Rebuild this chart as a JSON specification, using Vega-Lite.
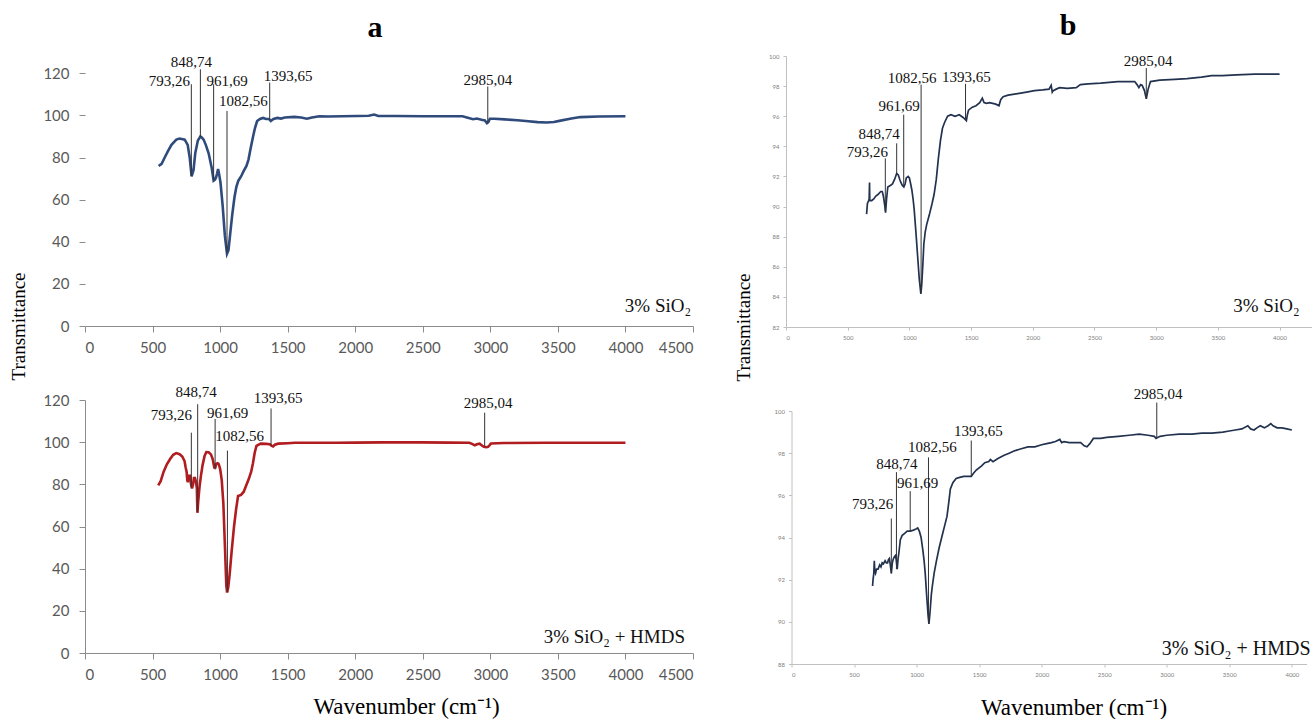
{
  "$schema": "https://vega.github.io/schema/vega-lite/v6.json",
  "background": "white",
  "padding": {"left": 9, "top": 11, "right": 0, "bottom": 0},
  "config": {"view": {"stroke": null}, "axis": {"labelOverlap": false, "labelBound": false}},
  "datasets": {
    "a1": [
      {"x":545,"y":76},{"x":567,"y":77},{"x":590,"y":80},{"x":614,"y":83},{"x":640,"y":86},{"x":676,"y":88.5},{"x":700,"y":89},{"x":738,"y":88.5},{"x":760,"y":86},{"x":775,"y":80},{"x":789,"y":71},{"x":803,"y":74},{"x":816,"y":82},{"x":835,"y":88},{"x":854,"y":90},{"x":864,"y":89.5},{"x":878,"y":88.5},{"x":894,"y":86},{"x":915,"y":82},{"x":938,"y":75},{"x":952,"y":69},{"x":962,"y":69.5},{"x":970,"y":70.5},{"x":978,"y":72.5},{"x":985,"y":74.5},{"x":993,"y":72},{"x":1003,"y":68},{"x":1019,"y":57},{"x":1035,"y":43},{"x":1051,"y":34.3},{"x":1062,"y":36},{"x":1075,"y":44},{"x":1090,"y":53},{"x":1106,"y":61},{"x":1120,"y":66},{"x":1135,"y":69},{"x":1155,"y":71},{"x":1174,"y":73.5},{"x":1195,"y":76},{"x":1210,"y":79},{"x":1225,"y":84},{"x":1244,"y":90},{"x":1258,"y":94},{"x":1274,"y":97.3},{"x":1295,"y":98.3},{"x":1318,"y":98.8},{"x":1340,"y":98.3},{"x":1361,"y":98.3},{"x":1375,"y":97.3},{"x":1395,"y":98.3},{"x":1424,"y":98.8},{"x":1450,"y":98.5},{"x":1480,"y":99},{"x":1548,"y":99.3},{"x":1600,"y":99},{"x":1642,"y":98.4},{"x":1680,"y":99},{"x":1735,"y":99.6},{"x":1800,"y":99.5},{"x":1900,"y":99.6},{"x":2015,"y":99.7},{"x":2100,"y":99.8},{"x":2140,"y":100.4},{"x":2171,"y":99.7},{"x":2300,"y":99.7},{"x":2500,"y":99.6},{"x":2700,"y":99.6},{"x":2794,"y":99.6},{"x":2840,"y":98.8},{"x":2872,"y":98.2},{"x":2900,"y":98.5},{"x":2935,"y":97.9},{"x":2960,"y":97.6},{"x":2975,"y":96.3},{"x":2985,"y":96.8},{"x":2997,"y":98.4},{"x":3030,"y":98.4},{"x":3106,"y":98.1},{"x":3200,"y":97.7},{"x":3262,"y":97.3},{"x":3350,"y":96.8},{"x":3417,"y":96.6},{"x":3470,"y":96.9},{"x":3511,"y":97.4},{"x":3600,"y":98.5},{"x":3667,"y":99.2},{"x":3800,"y":99.5},{"x":4000,"y":99.6}
    ],
    "a2": [
      {"x":542,"y":79.5},{"x":560,"y":81.5},{"x":582,"y":86},{"x":606,"y":89.5},{"x":630,"y":92},{"x":653,"y":94},{"x":675,"y":94.8},{"x":700,"y":94.3},{"x":720,"y":93.2},{"x":737,"y":91},{"x":745,"y":88},{"x":752,"y":86},{"x":757,"y":82},{"x":761,"y":81},{"x":768,"y":84},{"x":777,"y":84},{"x":785,"y":80},{"x":792,"y":78},{"x":800,"y":80},{"x":806,"y":83},{"x":814,"y":83},{"x":822,"y":81},{"x":828,"y":78},{"x":832,"y":66.5},{"x":838,"y":72},{"x":848,"y":79},{"x":858,"y":84},{"x":870,"y":89},{"x":885,"y":93.5},{"x":898,"y":95.3},{"x":915,"y":95.2},{"x":932,"y":94.2},{"x":945,"y":92},{"x":957,"y":88},{"x":965,"y":88},{"x":970,"y":89.5},{"x":980,"y":90},{"x":988,"y":89.8},{"x":995,"y":88.5},{"x":1001,"y":87},{"x":1012,"y":82},{"x":1024,"y":71},{"x":1036,"y":50},{"x":1046,"y":32},{"x":1052,"y":28.7},{"x":1060,"y":31},{"x":1070,"y":37},{"x":1085,"y":48},{"x":1103,"y":60},{"x":1118,"y":68},{"x":1133,"y":74.5},{"x":1155,"y":75},{"x":1175,"y":76.5},{"x":1190,"y":79},{"x":1212,"y":82.5},{"x":1230,"y":86},{"x":1243,"y":90},{"x":1256,"y":95},{"x":1269,"y":98.2},{"x":1300,"y":99.3},{"x":1340,"y":99.2},{"x":1367,"y":99},{"x":1380,"y":98.4},{"x":1392,"y":98},{"x":1405,"y":98.8},{"x":1430,"y":99.3},{"x":1500,"y":99.5},{"x":1554,"y":99.7},{"x":1700,"y":99.7},{"x":1865,"y":99.7},{"x":2000,"y":99.8},{"x":2200,"y":99.9},{"x":2486,"y":99.9},{"x":2700,"y":99.8},{"x":2843,"y":99.7},{"x":2865,"y":99.2},{"x":2885,"y":98.5},{"x":2900,"y":99},{"x":2921,"y":99.3},{"x":2940,"y":98.3},{"x":2952,"y":97.8},{"x":2970,"y":97.6},{"x":2983,"y":97.8},{"x":2995,"y":98.6},{"x":3005,"y":99.4},{"x":3100,"y":99.6},{"x":3418,"y":99.7},{"x":3700,"y":99.7},{"x":4000,"y":99.7}
    ],
    "b1": [
      {"x":653,"y":89.5},{"x":660,"y":90.2},{"x":670,"y":90.4},{"x":674,"y":90.5},{"x":677,"y":91.6},{"x":679,"y":90.4},{"x":695,"y":90.4},{"x":711,"y":90.5},{"x":728,"y":90.7},{"x":745,"y":90.8},{"x":768,"y":91.0},{"x":780,"y":91},{"x":789,"y":90.7},{"x":800,"y":90.1},{"x":807,"y":89.6},{"x":815,"y":90.5},{"x":825,"y":91.3},{"x":845,"y":91.4},{"x":863,"y":91.5},{"x":880,"y":91.8},{"x":897,"y":92.2},{"x":910,"y":92.1},{"x":922,"y":91.8},{"x":931,"y":91.6},{"x":943,"y":91.4},{"x":955,"y":91.3},{"x":965,"y":91.5},{"x":975,"y":91.9},{"x":990,"y":92.0},{"x":1000,"y":91.9},{"x":1008,"y":91.6},{"x":1020,"y":91.1},{"x":1030,"y":90.5},{"x":1039,"y":89.8},{"x":1052,"y":88.4},{"x":1066,"y":86.8},{"x":1080,"y":85.2},{"x":1093,"y":84.2},{"x":1100,"y":84.8},{"x":1110,"y":86.3},{"x":1117,"y":87.5},{"x":1128,"y":88.3},{"x":1140,"y":88.8},{"x":1160,"y":89.4},{"x":1184,"y":90.2},{"x":1200,"y":90.8},{"x":1218,"y":91.8},{"x":1235,"y":93.2},{"x":1252,"y":94.4},{"x":1268,"y":95.2},{"x":1286,"y":95.6},{"x":1310,"y":96.0},{"x":1337,"y":96.1},{"x":1370,"y":96.0},{"x":1404,"y":96.1},{"x":1438,"y":95.9},{"x":1450,"y":95.8},{"x":1462,"y":95.7},{"x":1470,"y":96.1},{"x":1479,"y":96.4},{"x":1510,"y":96.6},{"x":1540,"y":96.7},{"x":1570,"y":96.9},{"x":1591,"y":97.2},{"x":1605,"y":96.9},{"x":1624,"y":96.85},{"x":1650,"y":96.9},{"x":1675,"y":96.85},{"x":1700,"y":96.8},{"x":1726,"y":96.7},{"x":1740,"y":97.1},{"x":1760,"y":97.3},{"x":1800,"y":97.4},{"x":1878,"y":97.5},{"x":1950,"y":97.6},{"x":2014,"y":97.7},{"x":2080,"y":97.75},{"x":2132,"y":97.8},{"x":2149,"y":98.05},{"x":2158,"y":97.6},{"x":2166,"y":97.7},{"x":2190,"y":97.8},{"x":2217,"y":97.9},{"x":2280,"y":97.85},{"x":2352,"y":97.9},{"x":2386,"y":98.1},{"x":2450,"y":98.15},{"x":2550,"y":98.2},{"x":2690,"y":98.3},{"x":2780,"y":98.3},{"x":2826,"y":98.3},{"x":2845,"y":98.1},{"x":2860,"y":97.9},{"x":2874,"y":98.1},{"x":2887,"y":98.05},{"x":2905,"y":97.7},{"x":2920,"y":97.15},{"x":2935,"y":97.8},{"x":2954,"y":98.3},{"x":3029,"y":98.4},{"x":3150,"y":98.45},{"x":3250,"y":98.5},{"x":3367,"y":98.6},{"x":3450,"y":98.7},{"x":3536,"y":98.7},{"x":3650,"y":98.75},{"x":3800,"y":98.8},{"x":4000,"y":98.8}
    ],
    "b2": [
      {"x":648,"y":91.7},{"x":652,"y":92.0},{"x":658,"y":92.3},{"x":662,"y":92.9},{"x":666,"y":92.4},{"x":672,"y":92.3},{"x":680,"y":92.5},{"x":692,"y":92.5},{"x":705,"y":92.7},{"x":715,"y":92.6},{"x":725,"y":92.8},{"x":735,"y":92.75},{"x":748,"y":92.9},{"x":758,"y":92.8},{"x":768,"y":92.8},{"x":775,"y":92.95},{"x":782,"y":93.0},{"x":790,"y":92.7},{"x":798,"y":92.3},{"x":806,"y":92.8},{"x":815,"y":93.0},{"x":824,"y":93.1},{"x":832,"y":93.15},{"x":838,"y":92.9},{"x":845,"y":92.5},{"x":852,"y":93.0},{"x":859,"y":93.3},{"x":870,"y":93.9},{"x":885,"y":94.1},{"x":905,"y":94.2},{"x":925,"y":94.3},{"x":950,"y":94.3},{"x":975,"y":94.35},{"x":995,"y":94.4},{"x":1009,"y":94.45},{"x":1022,"y":94.3},{"x":1036,"y":94.0},{"x":1050,"y":93.4},{"x":1060,"y":92.9},{"x":1069,"y":92.3},{"x":1080,"y":91.3},{"x":1092,"y":90.3},{"x":1099,"y":89.9},{"x":1108,"y":90.5},{"x":1118,"y":91.3},{"x":1126,"y":91.7},{"x":1140,"y":92.3},{"x":1159,"y":92.9},{"x":1180,"y":93.5},{"x":1209,"y":94.2},{"x":1226,"y":94.6},{"x":1243,"y":95.0},{"x":1258,"y":95.7},{"x":1270,"y":96.3},{"x":1290,"y":96.6},{"x":1316,"y":96.8},{"x":1345,"y":96.85},{"x":1377,"y":96.9},{"x":1410,"y":96.9},{"x":1437,"y":96.9},{"x":1455,"y":97.05},{"x":1477,"y":97.2},{"x":1520,"y":97.4},{"x":1545,"y":97.55},{"x":1577,"y":97.6},{"x":1590,"y":97.7},{"x":1611,"y":97.6},{"x":1650,"y":97.75},{"x":1700,"y":97.9},{"x":1740,"y":98.0},{"x":1778,"y":98.1},{"x":1830,"y":98.2},{"x":1890,"y":98.3},{"x":1945,"y":98.3},{"x":2000,"y":98.4},{"x":2040,"y":98.45},{"x":2078,"y":98.5},{"x":2110,"y":98.55},{"x":2145,"y":98.65},{"x":2160,"y":98.5},{"x":2179,"y":98.55},{"x":2220,"y":98.5},{"x":2260,"y":98.5},{"x":2312,"y":98.5},{"x":2340,"y":98.35},{"x":2362,"y":98.3},{"x":2385,"y":98.45},{"x":2413,"y":98.7},{"x":2470,"y":98.7},{"x":2520,"y":98.75},{"x":2613,"y":98.8},{"x":2700,"y":98.85},{"x":2780,"y":98.9},{"x":2850,"y":98.85},{"x":2900,"y":98.8},{"x":2914,"y":98.7},{"x":2930,"y":98.75},{"x":2947,"y":98.8},{"x":3000,"y":98.85},{"x":3100,"y":98.9},{"x":3200,"y":98.9},{"x":3281,"y":98.95},{"x":3360,"y":98.95},{"x":3448,"y":99.0},{"x":3500,"y":99.05},{"x":3548,"y":99.1},{"x":3600,"y":99.15},{"x":3648,"y":99.3},{"x":3670,"y":99.15},{"x":3698,"y":99.1},{"x":3720,"y":99.2},{"x":3748,"y":99.3},{"x":3780,"y":99.2},{"x":3810,"y":99.3},{"x":3832,"y":99.4},{"x":3850,"y":99.3},{"x":3882,"y":99.2},{"x":3920,"y":99.2},{"x":3960,"y":99.15},{"x":4000,"y":99.1}
    ],
    "ann_a1": [
      {"label":"793,26","lx":625,"ly":116.3,"x":787,"y1":114.8,"y2":71.2},
      {"label":"848,74","lx":787,"ly":125.5,"x":854,"y1":121.9,"y2":89.8},
      {"label":"961,69","lx":1051,"ly":116.3,"x":952,"y1":114.8,"y2":69.5},
      {"label":"1082,56","lx":1172,"ly":106.8,"x":1051,"y1":102.1,"y2":35},
      {"label":"1393,65","lx":1503,"ly":118.7,"x":1367,"y1":115.6,"y2":98},
      {"label":"2985,04","lx":2981,"ly":116.7,"x":2981,"y1":113.7,"y2":96.5}
    ],
    "ann_a2": [
      {"label":"793,26","lx":639,"ly":113,"x":787,"y1":104.5,"y2":78.5},
      {"label":"848,74","lx":823,"ly":124,"x":834,"y1":118,"y2":67},
      {"label":"961,69","lx":1056,"ly":114,"x":963,"y1":111,"y2":87},
      {"label":"1082,56","lx":1145,"ly":103,"x":1054,"y1":96,"y2":29},
      {"label":"1393,65","lx":1429,"ly":121,"x":1377,"y1":116,"y2":98.5},
      {"label":"2985,04","lx":2983,"ly":118.5,"x":2958,"y1":114,"y2":98}
    ],
    "ann_b1": [
      {"label":"793,26","lx":660,"ly":93.6,"x":805,"y1":93.2,"y2":89.7},
      {"label":"848,74","lx":755,"ly":94.8,"x":897,"y1":94.2,"y2":92.2},
      {"label":"961,69","lx":917,"ly":96.7,"x":954,"y1":96.1,"y2":91.3},
      {"label":"1082,56","lx":1022,"ly":98.55,"x":1095,"y1":98.1,"y2":84.3},
      {"label":"1393,65","lx":1462,"ly":98.6,"x":1455,"y1":98.15,"y2":95.8},
      {"label":"2985,04","lx":2934,"ly":99.7,"x":2920,"y1":99.2,"y2":97.2}
    ],
    "ann_b2": [
      {"label":"793,26","lx":648,"ly":95.6,"x":798,"y1":94.9,"y2":92.3},
      {"label":"848,74","lx":842,"ly":97.5,"x":839,"y1":97.1,"y2":92.5},
      {"label":"961,69","lx":1009,"ly":96.6,"x":949,"y1":96.2,"y2":94.3},
      {"label":"1082,56","lx":1126,"ly":98.3,"x":1095,"y1":97.8,"y2":89.9},
      {"label":"1393,65","lx":1494,"ly":99.05,"x":1437,"y1":98.6,"y2":96.9},
      {"label":"2985,04","lx":2930,"ly":100.8,"x":2920,"y1":100.4,"y2":98.7}
    ],
    "samples": [
      {"panel":"a1","t":"3% SiO₂","x":4486,"y":9.5},
      {"panel":"a2","t":"3% SiO₂ + HMDS","x":4441,"y":7.6},
      {"panel":"b1","t":"3% SiO₂","x":4162,"y":83.4},
      {"panel":"b2","t":"3% SiO₂ + HMDS","x":4150,"y":88.7}
    ]
  },
  "spacing": 40,
  "hconcat": [
    {
      "vconcat": [
        {
          "width": 608, "height": 270,
          "title": {"text": "a", "font": "Liberation Serif", "fontSize": 30, "fontWeight": "bold", "color": "#000", "frame": "group", "anchor": "middle", "offset": 12, "dx": -14},
          "layer": [
            {"data": {"name": "a1"}, "mark": {"type": "line", "color": "#2f4b7c", "strokeWidth": 2.6},
             "encoding": {
               "x": {"field": "x", "type": "quantitative", "title": null, "scale": {"domain": [0, 4500], "nice": false},
                     "axis": {"values": [0,500,1000,1500,2000,2500,3000,3500,4000,4500], "format": "d", "grid": false, "labelFont": "Lato", "labelFontSize": 15, "labelColor": "#595959", "domainColor": "#8c8c8c", "tickColor": "#8c8c8c", "tickSize": 6, "labelPadding": 8}},
               "y": {"field": "y", "type": "quantitative", "title": "Transmittance", "scale": {"domain": [0, 128.2], "nice": false},
                     "axis": {"values": [0,20,40,60,80,100,120], "format": "d", "grid": false, "domain": false, "labelFont": "Lato", "labelFontSize": 15, "labelColor": "#595959", "tickColor": "#8c8c8c", "tickSize": 6, "labelPadding": 10,
                              "titleFont": "Liberation Serif", "titleFontSize": 19, "titleFontWeight": "normal", "titleColor": "#000", "titleX": -66.5, "titleY": 270, "titleAngle": -90, "titleAlign": "center", "titleBaseline": "middle"}}
             }},
            {"mark": {"type": "rule", "color": "#8c8c8c", "strokeWidth": 1},
             "encoding": {"x": {"datum": 0, "type": "quantitative", "title": null}, "y": {"datum": 0, "type": "quantitative", "title": "Transmittance"}, "y2": {"datum": 120}}},
            {"data": {"name": "ann_a1"}, "mark": {"type": "rule", "color": "#333", "strokeWidth": 1},
             "encoding": {"x": {"field": "x", "type": "quantitative", "title": null}, "y": {"field": "y1", "type": "quantitative", "title": "Transmittance"}, "y2": {"field": "y2"}}},
            {"data": {"name": "ann_a1"}, "mark": {"type": "text", "font": "Liberation Serif", "fontSize": 15, "color": "#111", "baseline": "middle"},
             "encoding": {"x": {"field": "lx", "type": "quantitative", "title": null}, "y": {"field": "ly", "type": "quantitative", "title": "Transmittance"}, "text": {"field": "label"}}},
            {"data": {"name": "samples"}, "transform": [{"filter": "datum.panel === 'a1'"}], "mark": {"type": "text", "font": "Liberation Serif", "fontSize": 19, "color": "#111", "align": "right", "baseline": "middle"},
             "encoding": {"x": {"field": "x", "type": "quantitative", "title": null}, "y": {"field": "y", "type": "quantitative", "title": "Transmittance"}, "text": {"field": "t"}}}
          ]
        },
        {
          "width": 608, "height": 253,
          "layer": [
            {"data": {"name": "a2"}, "mark": {"type": "line", "color": "#b01c1f", "strokeWidth": 2.6},
             "encoding": {
               "x": {"field": "x", "type": "quantitative", "title": "Wavenumber (cm⁻¹)", "scale": {"domain": [0, 4500], "nice": false},
                     "axis": {"values": [0,500,1000,1500,2000,2500,3000,3500,4000,4500], "format": "d", "grid": false, "labelFont": "Lato", "labelFontSize": 15, "labelColor": "#595959", "domainColor": "#8c8c8c", "tickColor": "#8c8c8c", "tickSize": 6, "labelPadding": 8,
                              "titleFont": "Liberation Serif", "titleFontSize": 23, "titleFontWeight": "normal", "titleColor": "#000", "titleX": 321, "titleY": 53, "titleAlign": "center", "titleBaseline": "middle"}},
               "y": {"field": "y", "type": "quantitative", "title": null, "scale": {"domain": [0, 120], "nice": false},
                     "axis": {"values": [0,20,40,60,80,100,120], "format": "d", "grid": false, "labelFont": "Lato", "labelFontSize": 15, "labelColor": "#595959", "domainColor": "#8c8c8c", "tickColor": "#8c8c8c", "tickSize": 6, "labelPadding": 10}}
             }},
            {"data": {"name": "ann_a2"}, "mark": {"type": "rule", "color": "#333", "strokeWidth": 1},
             "encoding": {"x": {"field": "x", "type": "quantitative", "title": "Wavenumber (cm⁻¹)"}, "y": {"field": "y1", "type": "quantitative", "title": null}, "y2": {"field": "y2"}}},
            {"data": {"name": "ann_a2"}, "mark": {"type": "text", "font": "Liberation Serif", "fontSize": 15, "color": "#111", "baseline": "middle"},
             "encoding": {"x": {"field": "lx", "type": "quantitative", "title": "Wavenumber (cm⁻¹)"}, "y": {"field": "ly", "type": "quantitative", "title": null}, "text": {"field": "label"}}},
            {"data": {"name": "samples"}, "transform": [{"filter": "datum.panel === 'a2'"}], "mark": {"type": "text", "font": "Liberation Serif", "fontSize": 19, "color": "#111", "align": "right", "baseline": "middle"},
             "encoding": {"x": {"field": "x", "type": "quantitative", "title": "Wavenumber (cm⁻¹)"}, "y": {"field": "y", "type": "quantitative", "title": null}, "text": {"field": "t"}}}
          ]
        }
      ],
      "spacing": 74,
      "bounds": "flush"
    },
    {
      "vconcat": [
        {
          "width": 526, "height": 271,
          "title": {"text": "b", "font": "Liberation Serif", "fontSize": 30, "fontWeight": "bold", "color": "#000", "frame": "group", "anchor": "middle", "offset": 12, "dx": 19},
          "layer": [
            {"data": {"name": "b1"}, "mark": {"type": "line", "color": "#22324f", "strokeWidth": 1.7},
             "encoding": {
               "x": {"field": "x", "type": "quantitative", "title": null, "scale": {"domain": [0, 4263], "nice": false},
                     "axis": {"values": [0,500,1000,1500,2000,2500,3000,3500,4000], "format": "d", "grid": false, "labelFont": "Lato", "labelFontSize": 6, "labelColor": "#808080", "domainColor": "#c0c0c0", "tickColor": "#c0c0c0", "tickSize": 3, "labelPadding": 4}},
               "y": {"field": "y", "type": "quantitative", "title": "Transmittance", "scale": {"domain": [82, 100], "nice": false},
                     "axis": {"values": [82,84,86,88,90,92,94,96,98,100], "tickCount": 10, "format": "d", "grid": false, "labelFont": "Lato", "labelFontSize": 6, "labelColor": "#808080", "domainColor": "#c0c0c0", "tickColor": "#c0c0c0", "tickSize": 3, "labelPadding": 4,
                              "titleFont": "Liberation Serif", "titleFontSize": 19, "titleFontWeight": "normal", "titleColor": "#000", "titleX": -43, "titleY": 271, "titleAngle": -90, "titleAlign": "center", "titleBaseline": "middle"}}
             }},
            {"data": {"name": "ann_b1"}, "mark": {"type": "rule", "color": "#333", "strokeWidth": 1},
             "encoding": {"x": {"field": "x", "type": "quantitative", "title": null}, "y": {"field": "y1", "type": "quantitative", "title": "Transmittance"}, "y2": {"field": "y2"}}},
            {"data": {"name": "ann_b1"}, "mark": {"type": "text", "font": "Liberation Serif", "fontSize": 15, "color": "#111", "baseline": "middle"},
             "encoding": {"x": {"field": "lx", "type": "quantitative", "title": null}, "y": {"field": "ly", "type": "quantitative", "title": "Transmittance"}, "text": {"field": "label"}}},
            {"data": {"name": "samples"}, "transform": [{"filter": "datum.panel === 'b1'"}], "mark": {"type": "text", "font": "Liberation Serif", "fontSize": 19, "color": "#111", "align": "right", "baseline": "middle"},
             "encoding": {"x": {"field": "x", "type": "quantitative", "title": null}, "y": {"field": "y", "type": "quantitative", "title": "Transmittance"}, "text": {"field": "t"}}}
          ]
        },
        {
          "width": 515, "height": 253,
          "layer": [
            {"data": {"name": "b2"}, "mark": {"type": "line", "color": "#22324f", "strokeWidth": 1.7},
             "encoding": {
               "x": {"field": "x", "type": "quantitative", "title": "Wavenumber (cm⁻¹)", "scale": {"domain": [0, 4117], "nice": false},
                     "axis": {"values": [0,500,1000,1500,2000,2500,3000,3500,4000], "format": "d", "grid": false, "labelFont": "Lato", "labelFontSize": 6, "labelColor": "#808080", "domainColor": "#c0c0c0", "tickColor": "#c0c0c0", "tickSize": 3, "labelPadding": 4,
                              "titleFont": "Liberation Serif", "titleFontSize": 23, "titleFontWeight": "normal", "titleColor": "#000", "titleX": 282, "titleY": 43, "titleAlign": "center", "titleBaseline": "middle"}},
               "y": {"field": "y", "type": "quantitative", "title": null, "scale": {"domain": [88, 100], "nice": false},
                     "axis": {"values": [88,90,92,94,96,98,100], "format": "d", "grid": false, "labelFont": "Lato", "labelFontSize": 6, "labelColor": "#808080", "domainColor": "#c0c0c0", "tickColor": "#c0c0c0", "tickSize": 3, "labelPadding": 4}}
             }},
            {"data": {"name": "ann_b2"}, "mark": {"type": "rule", "color": "#333", "strokeWidth": 1},
             "encoding": {"x": {"field": "x", "type": "quantitative", "title": "Wavenumber (cm⁻¹)"}, "y": {"field": "y1", "type": "quantitative", "title": null}, "y2": {"field": "y2"}}},
            {"data": {"name": "ann_b2"}, "mark": {"type": "text", "font": "Liberation Serif", "fontSize": 15, "color": "#111", "baseline": "middle"},
             "encoding": {"x": {"field": "lx", "type": "quantitative", "title": "Wavenumber (cm⁻¹)"}, "y": {"field": "ly", "type": "quantitative", "title": null}, "text": {"field": "label"}}},
            {"data": {"name": "samples"}, "transform": [{"filter": "datum.panel === 'b2'"}], "mark": {"type": "text", "font": "Liberation Serif", "fontSize": 20, "color": "#111", "align": "right", "baseline": "middle"},
             "encoding": {"x": {"field": "x", "type": "quantitative", "title": "Wavenumber (cm⁻¹)"}, "y": {"field": "y", "type": "quantitative", "title": null}, "text": {"field": "t"}}}
          ]
        }
      ],
      "spacing": 84,
      "bounds": "flush",
      "center": true
    }
  ]
}
